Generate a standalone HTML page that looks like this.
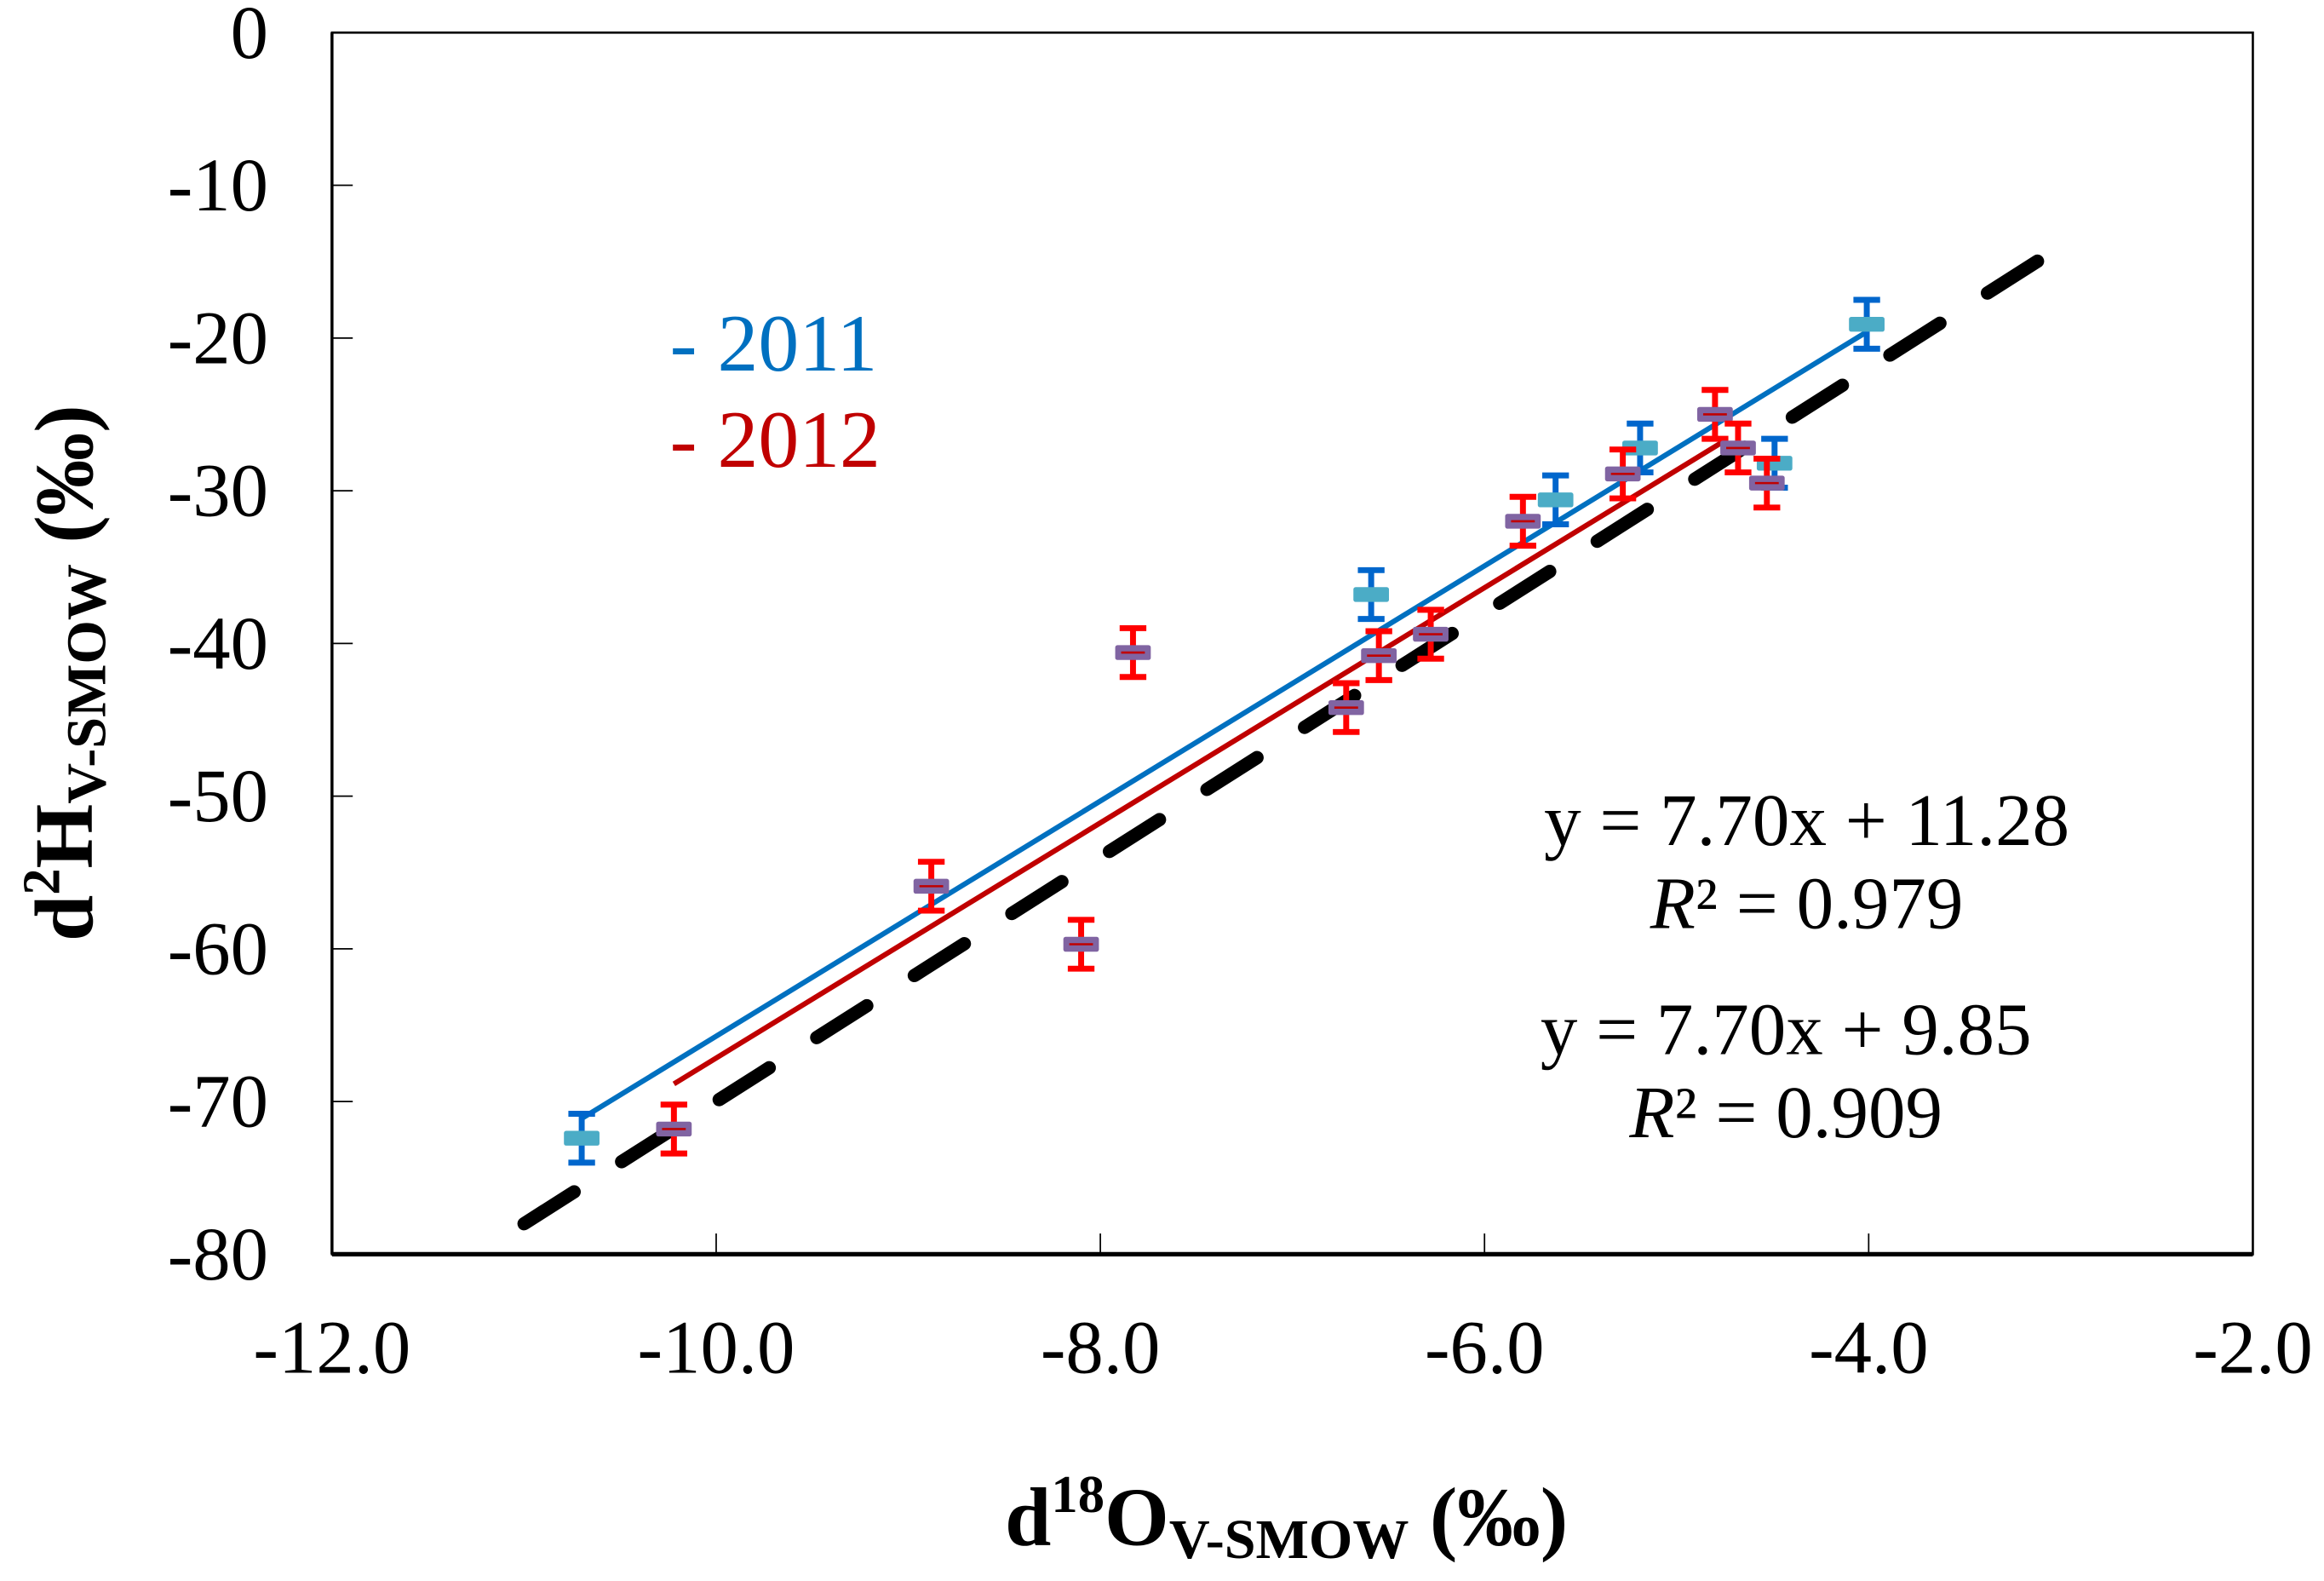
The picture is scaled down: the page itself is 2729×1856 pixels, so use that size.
<!DOCTYPE html>
<html><head><meta charset="utf-8"><style>html,body{margin:0;padding:0;background:#fff}svg{display:block}</style></head>
<body>
<svg id="chart" width="2729" height="1856" viewBox="0 0 1568 1066.4" xmlns="http://www.w3.org/2000/svg" font-family="'Liberation Serif', serif">
<rect x="0" y="0" width="1568" height="1066.4" fill="#fff"/>
<g id="grid"></g>
<g id="marks"></g>
<text x="452" y="250" font-size="55" fill="#0070c0">- 2011</text>
<text x="452" y="315" font-size="55" fill="#c00000">- 2012</text>
<text x="1219" y="570" font-size="50" text-anchor="middle">y = 7.70x + 11.28</text>
<text x="1219" y="626" font-size="50" text-anchor="middle"><tspan font-style="italic">R</tspan>² = 0.979</text>
<text x="1205" y="711" font-size="50" text-anchor="middle">y = 7.70x + 9.85</text>
<text x="1205" y="767" font-size="50" text-anchor="middle"><tspan font-style="italic">R</tspan>² = 0.909</text>
<text x="868" y="1042" font-size="56" font-weight="bold" text-anchor="middle">d<tspan font-size="36" dy="-22">18</tspan><tspan dy="22">O</tspan><tspan font-size="38" dy="9">V-SMOW</tspan><tspan dy="-9"> (‰)</tspan></text>
<text transform="translate(62,454) rotate(-90)" font-size="56" font-weight="bold" text-anchor="middle">d<tspan font-size="36" dy="-22">2</tspan><tspan dy="22">H</tspan><tspan font-size="38" dy="9">V-SMOW</tspan><tspan dy="-9"> (‰)</tspan></text>
</svg>
<script>
const xTicks=[-12,-10,-8,-6,-4,-2];
const xTickLabels=["-12.0","-10.0","-8.0","-6.0","-4.0","-2.0"];
const yTicks=[0,-10,-20,-30,-40,-50,-60,-70,-80];
const yTickLabels=["0","-10","-20","-30","-40","-50","-60","-70","-80"];
const x2011=[-10.70,-6.59,-5.63,-5.19,-4.49,-4.01];
const y2011=[-72.4,-36.8,-30.6,-27.2,-28.2,-19.1];
const x2012=[-10.22,-8.88,-8.10,-7.83,-6.72,-6.55,-6.28,-5.80,-5.28,-4.80,-4.68,-4.53];
const y2012=[-71.8,-55.9,-59.7,-40.6,-44.2,-40.8,-39.4,-32.0,-28.9,-25.0,-27.2,-29.5];
const errBar=1.6;
const fit2011=[7.70,11.28,-10.70,-4.01];
const fit2012=[7.70,9.85,-10.22,-4.74];
const gmwl=[8,10,-11,-3];
const L=224,R=1520,T=22,B=846;
const sx=v=>L+(v+12)/10*(R-L);
const sy=v=>T+(0-v)/80*(B-T);
const NS="http://www.w3.org/2000/svg";
const grid=document.getElementById('grid'),marks=document.getElementById('marks');
function mk(tag,attrs,parent){const e=document.createElementNS(NS,tag);for(const k in attrs)e.setAttribute(k,attrs[k]);parent.appendChild(e);return e;}
let e=mk('rect',{x:L,y:T,width:R-L,height:B-T,fill:'none',stroke:'#000','stroke-width':1.5},grid);


e=mk('line',{x1:L,x2:R,y1:B,y2:B,stroke:'#000','stroke-width':3},grid);


e=mk('line',{x1:L,x2:L,y1:T,y2:B,stroke:'#000','stroke-width':2},grid);


xTicks.forEach((v,i)=>{
 if(i>0&&i<xTicks.length-1){const t=mk('line',{x1:sx(v),x2:sx(v),y1:B,y2:B-14,stroke:'#000','stroke-width':1},grid);
 
 }
 const s=mk('text',{x:sx(v),y:926,'font-size':51,'text-anchor':'middle'},grid);s.textContent=xTickLabels[i];
 
 
});
yTicks.forEach((v,i)=>{
 if(i>0&&i<yTicks.length-1){const t=mk('line',{x1:L,x2:L+14,y1:sy(v),y2:sy(v),stroke:'#000','stroke-width':1},grid);
 
 }
 const s=mk('text',{x:181,y:sy(v)+17,'font-size':51,'text-anchor':'end'},grid);s.textContent=yTickLabels[i];
 
 
});
e=mk('line',{x1:sx(gmwl[2]),y1:sy(gmwl[0]*gmwl[2]+gmwl[1]),x2:sx(gmwl[3]),y2:sy(gmwl[0]*gmwl[3]+gmwl[1]),stroke:'#000','stroke-width':9,'stroke-dasharray':'40 38','stroke-linecap':'round'},marks);


function fit(f,c,name){const l=mk('line',{x1:sx(f[2]),y1:sy(f[0]*f[2]+f[1]),x2:sx(f[3]),y2:sy(f[0]*f[3]+f[1]),stroke:c,'stroke-width':3.5},marks);
 
 }
fit(fit2011,'#0070c0','fit-line-2011');
fit(fit2012,'#c00000','fit-line-2012');
function pts(xs,ys,ec,fc,name,inner){
 xs.forEach((x,i)=>{
  const g=mk('g',{},marks);
  
  
  const cx=sx(x),cy=sy(ys[i]),t=sy(ys[i]+errBar),b=sy(ys[i]-errBar);
  mk('line',{x1:cx,x2:cx,y1:t,y2:b,stroke:ec,'stroke-width':4},g);
  mk('line',{x1:cx-9,x2:cx+9,y1:t,y2:t,stroke:ec,'stroke-width':4},g);
  mk('line',{x1:cx-9,x2:cx+9,y1:b,y2:b,stroke:ec,'stroke-width':4},g);
  mk('rect',{x:cx-12,y:cy-5,width:24,height:10,rx:1.5,fill:fc},g);
  if(inner)mk('line',{x1:cx-8,x2:cx+8,y1:cy,y2:cy,stroke:inner,'stroke-width':1.5},g);
 });
}
pts(x2011,y2011,'#0066cc','#4bacc6','point-2011',null);
pts(x2012,y2012,'#ff0000','#8064a2','point-2012','#c00000');
</script>
</body></html>
